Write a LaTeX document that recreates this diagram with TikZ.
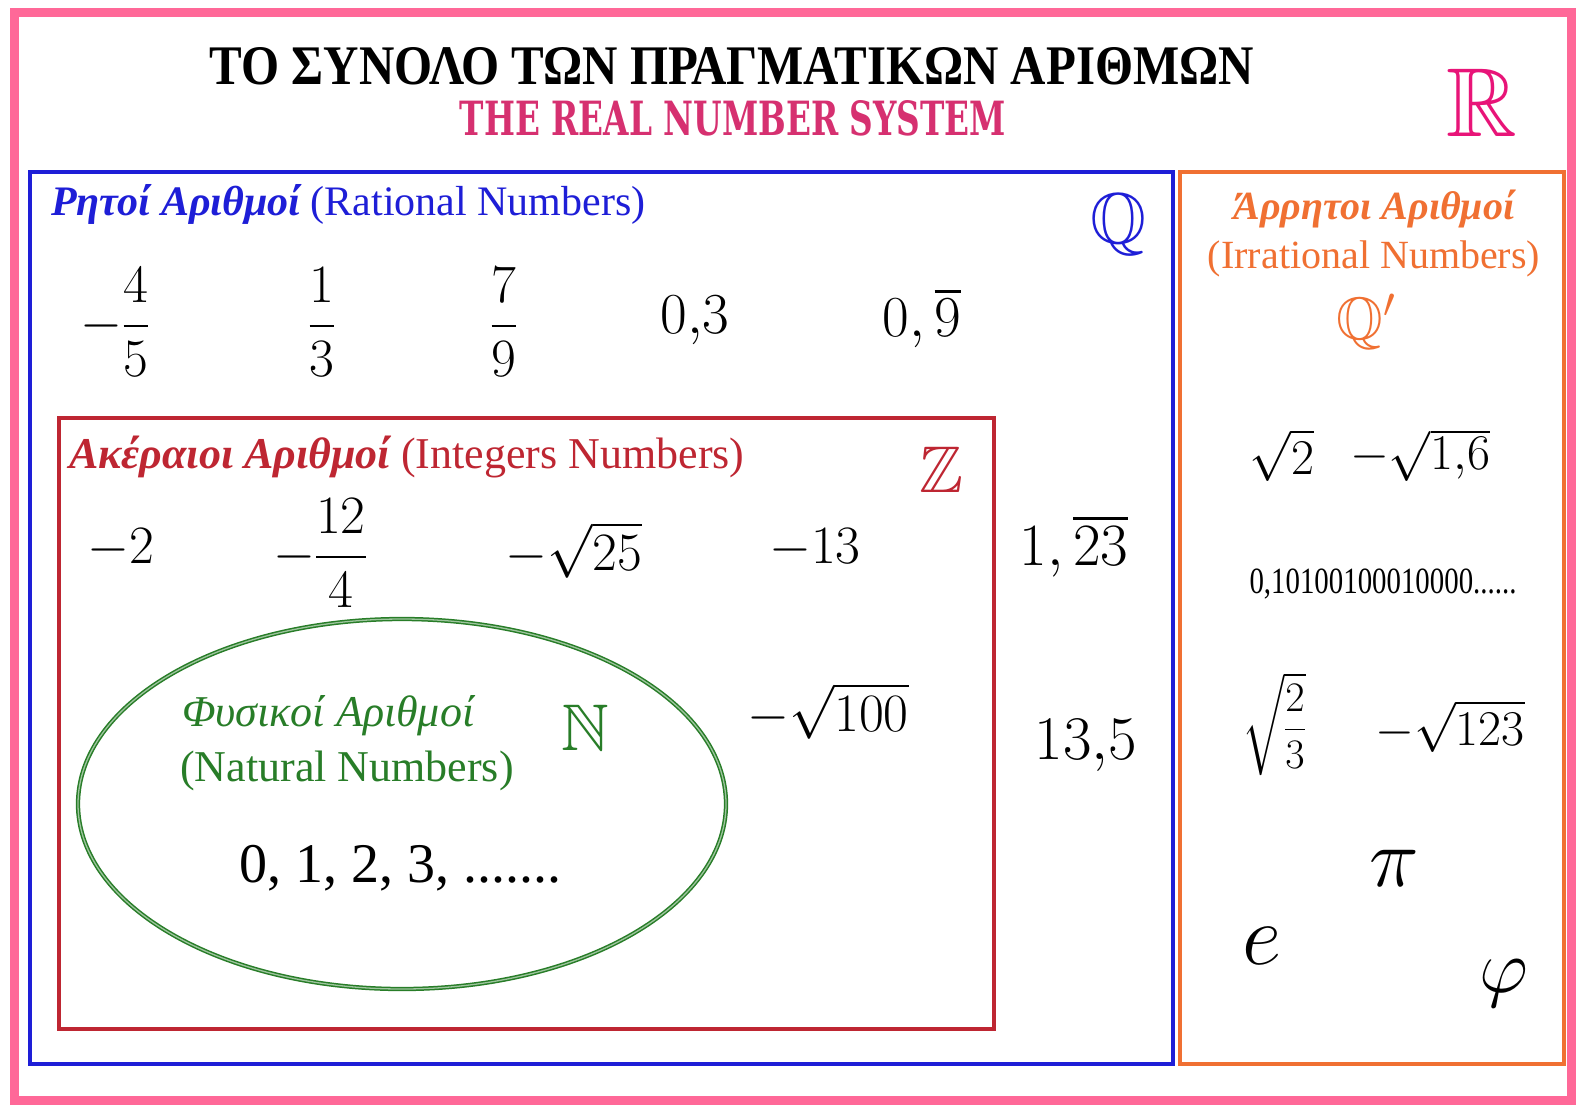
\RequirePackage{fix-cm}
\documentclass[tikz,border=0pt]{standalone}
\usepackage{amsmath,amssymb}
\usepackage{graphicx}
\usepackage{fontspec}
\setmainfont{Liberation Serif}
\newfontfamily\slabfont{DejaVu Serif}
\newfontfamily\digitfont[NFSSFamily=lsrm]{Liberation Serif}
\DeclareSymbolFont{lsdigits}{TU}{lsrm}{m}{n}
\DeclareMathSymbol{0}{\mathalpha}{lsdigits}{`0}
\DeclareMathSymbol{1}{\mathalpha}{lsdigits}{`1}
\DeclareMathSymbol{2}{\mathalpha}{lsdigits}{`2}
\DeclareMathSymbol{3}{\mathalpha}{lsdigits}{`3}
\DeclareMathSymbol{4}{\mathalpha}{lsdigits}{`4}
\DeclareMathSymbol{5}{\mathalpha}{lsdigits}{`5}
\DeclareMathSymbol{6}{\mathalpha}{lsdigits}{`6}
\DeclareMathSymbol{7}{\mathalpha}{lsdigits}{`7}
\DeclareMathSymbol{8}{\mathalpha}{lsdigits}{`8}
\DeclareMathSymbol{9}{\mathalpha}{lsdigits}{`9}
\definecolor{framepink}{RGB}{255,104,152}
\definecolor{titlepink}{RGB}{214,48,112}
\definecolor{realpink}{RGB}{232,20,120}
\definecolor{ratblue}{RGB}{30,30,215}
\definecolor{intred}{RGB}{190,38,50}
\definecolor{natgreen}{RGB}{40,125,40}
\definecolor{irrorange}{RGB}{240,112,50}
\begin{document}
\begin{tikzpicture}[x=1pt, y=-1pt,
  frame/.style={draw=framepink, line width=9pt},
  setbox/.style={line width=3.5pt},
  setlabel/.style={anchor=base west, inner sep=0pt, font=\fontsize{42}{48}\selectfont},
  num/.style={inner sep=0pt, font=\fontsize{54}{60}\selectfont},
  irr/.style={inner sep=0pt, font=\fontsize{50}{56}\selectfont},
  bb/.style={inner sep=0pt},
]
\useasboundingbox (0,0) rectangle (1586,1109);
\fill[white] (0,0) rectangle (1586,1109);
\draw[frame] (14,12) rectangle (1571,1100);

% titles
\node[inner sep=0pt] (title) at (732,66)
  {\resizebox{1044pt}{37pt}{\bfseries ΤΟ ΣΥΝΟΛΟ ΤΩΝ ΠΡΑΓΜΑΤΙΚΩΝ ΑΡΙΘΜΩΝ}};
\node[inner sep=0pt, text=titlepink] (subtitle) at (733,118)
  {\resizebox{546pt}{35pt}{\slabfont\bfseries THE REAL NUMBER SYSTEM}};
\node[bb, text=realpink, font=\fontsize{98}{100}\selectfont] (R) at (1482,103)
  {$\mathbb{R}$};

% set borders
\draw[setbox, draw=ratblue] (30,172) rectangle (1173,1064);
\draw[setbox, draw=irrorange] (1180,172) rectangle (1564,1064);
\draw[setbox, draw=intred] (59,418) rectangle (994,1029);
\draw[natgreen, line width=1.5pt, double=natgreen!45, double distance=1.3pt]
  (402,804) ellipse [x radius=324, y radius=185];

% rational numbers
\node[setlabel, text=ratblue] (qlabel) at (51,215)
  {{\bfseries\itshape Ρητοί Αριθμοί} (Rational Numbers)};
\node[bb, text=ratblue, font=\fontsize{72}{76}\selectfont] (Q) at (1118,225)
  {$\mathbb{Q}$};
\node[num] (q1) at (115,322) {$-\dfrac{4}{5}$};
\node[num] (q2) at (322,322) {$\dfrac{1}{3}$};
\node[num] (q3) at (504,322) {$\dfrac{7}{9}$};
\node[num, font=\fontsize{58}{62}\selectfont] (q4) at (695,320) {$0{,}3$};
\node[num, font=\fontsize{58}{62}\selectfont] (q5) at (922,318) {$0,\overline{9}$};
\node[num, font=\fontsize{60}{64}\selectfont] (q6) at (1074,546)
  {$1,\overline{23}$};
\node[num, font=\fontsize{62}{66}\selectfont] (q7) at (1086,746)
  {$13{,}5$};

% integers
\node[setlabel, text=intred, font=\fontsize{44}{50}\selectfont] (zlabel) at (69,468)
  {{\bfseries\itshape Ακέραιοι Αριθμοί} (Integers Numbers)};
\node[bb, text=intred, font=\fontsize{66}{70}\selectfont] (Z) at (941,470)
  {$\mathbb{Z}$};
\node[num] (z1) at (121,548) {$-2$};
\node[num] (z2) at (320,553) {$-\dfrac{12}{4}$};
\node[num] (z3) at (574,550) {$-\sqrt{25}$};
\node[num] (z4) at (815,548) {$-13$};
\node[num] (z5) at (828,711) {$-\sqrt{100}$};

% natural numbers
\node[setlabel, text=natgreen, font=\fontsize{44}{50}\selectfont\itshape] (nlabel) at (182,726)
  {Φυσικοί Αριθμοί};
\node[setlabel, text=natgreen, font=\fontsize{44}{50}\selectfont] (nlabel2) at (180,781)
  {(Natural Numbers)};
\node[bb, text=natgreen, font=\fontsize{66}{70}\selectfont] (N) at (585,728)
  {$\mathbb{N}$};
\node[inner sep=0pt, font=\fontsize{56}{60}\selectfont] (nvals) at (400,868)
  {0, 1, 2, 3, .......};

% irrational numbers
\node[inner sep=0pt, text=irrorange, font=\fontsize{40}{46}\selectfont\bfseries\itshape,
  anchor=base] (ilabel) at (1374,219) {Άρρητοι Αριθμοί};
\node[inner sep=0pt, text=irrorange, font=\fontsize{40}{46}\selectfont,
  anchor=base] (ilabel2) at (1374,268) {(Irrational Numbers)};
\node[bb, text=irrorange, font=\fontsize{60}{64}\selectfont] (Qp) at (1366,322)
  {$\mathbb{Q}'$};
\node[irr] (i1) at (1282,455) {$\sqrt{2}$};
\node[irr] (i2) at (1420,455) {$-\sqrt{1{,}6}$};
\node[inner sep=0pt, font=\fontsize{37}{40}\selectfont] (i3) at (1383,584)
  {\scalebox{0.78}[1]{0,10100100010000......}};
\node[irr, font=\fontsize{42}{46}\selectfont] (i4) at (1274,724) {$\sqrt{\dfrac{2}{3}}$};
\node[irr] (i5) at (1450,726) {$-\sqrt{123}$};
\node[bb, font=\fontsize{84}{88}\selectfont] (pi) at (1394,868) {$\pi$};
\node[bb, font=\fontsize{86}{90}\selectfont] (e) at (1262,946) {$e$};
\node[bb, font=\fontsize{76}{80}\selectfont] (phi) at (1504,984) {$\varphi$};
\end{tikzpicture}
\end{document}
